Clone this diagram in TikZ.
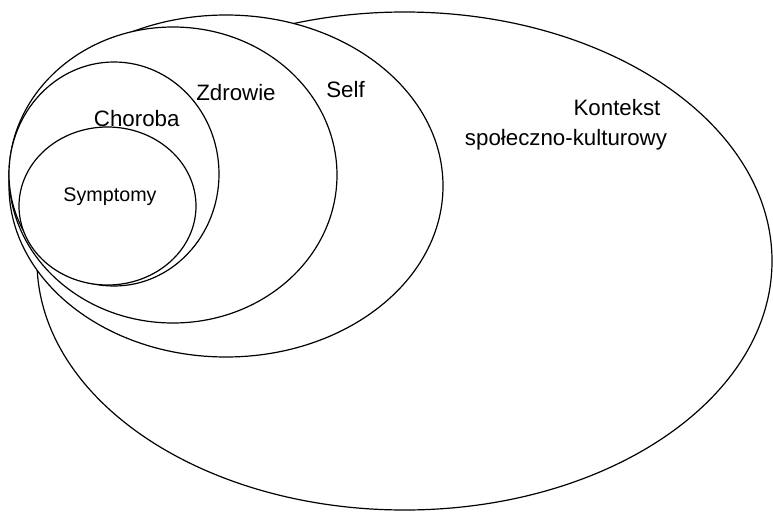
\documentclass[tikz,border=0pt]{standalone}
\usepackage{fontspec}
\setmainfont{Liberation Sans}
\usetikzlibrary{shapes.geometric}
\tikzset{
  ring/.style={ellipse, draw=black, fill=white, line width=1.2pt, inner sep=0pt, outer sep=0pt},
  lbl/.style={anchor=base, inner sep=0pt, font=\fontsize{22.3}{26}\selectfont},
  slbl/.style={anchor=base, inner sep=0pt, font=\fontsize{19.7}{23}\selectfont}
}
\begin{document}
\begin{tikzpicture}[x=1pt,y=-1pt]
\useasboundingbox (0,0) rectangle (773,511);
\node[ring, minimum width=735pt, minimum height=498pt] (kontekst) at (404.5,261) {};
\node[ring, minimum width=434pt, minimum height=342pt] (self) at (226,186) {};
\node[ring, minimum width=328pt, minimum height=296pt] (zdrowie) at (173,175) {};
\node[ring, minimum width=210pt, minimum height=224pt] (choroba) at (114,174) {};
\node[ring, minimum width=177pt, minimum height=158pt] (symptomy) at (107.5,206) {};
\node[lbl] (tzdrowie) at (236,100) {Zdrowie};
\node[lbl] (tself) at (345.5,97) {Self};
\node[lbl] (tchoroba) at (136.7,126) {Choroba};
\node[slbl] (tsymptomy) at (110,201.7) {Symptomy};
\node[lbl] (tkontekst) at (617,115) {Kontekst};
\node[lbl] (tspol) at (566,145) {społeczno-kulturowy};
\end{tikzpicture}
\end{document}
